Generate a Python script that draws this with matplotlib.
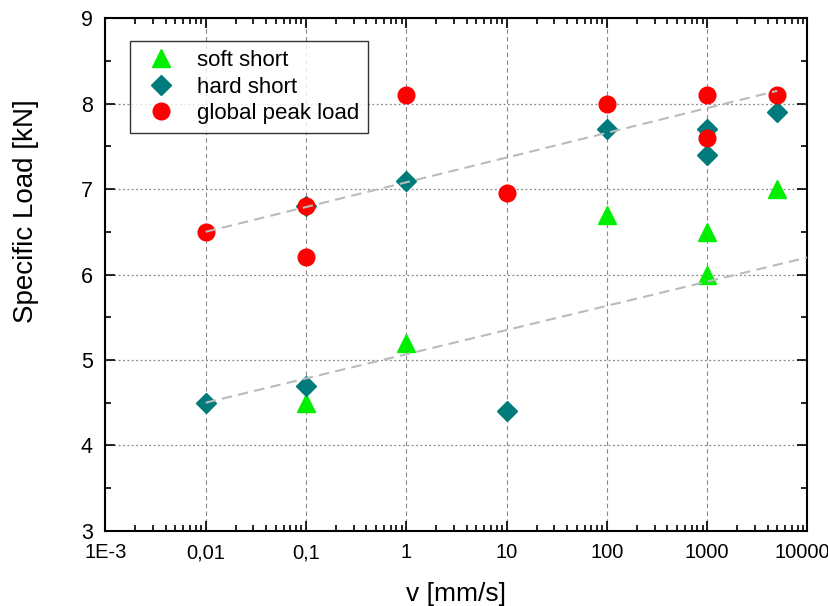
import numpy as np
import matplotlib
matplotlib.use("Agg")
from matplotlib import pyplot as plt
from matplotlib.ticker import FixedLocator, FixedFormatter, LogLocator, MultipleLocator
from matplotlib.transforms import ScaledTranslation

plt.rcParams['font.family'] = ['Liberation Sans', 'DejaVu Sans']

# measured loads per speed
soft_v = [0.1, 1, 100, 1000, 1000, 5000]
soft_F = [4.5, 5.2, 6.7, 6.5, 6.0, 7.0]
hard_v = [0.01, 0.1, 0.1, 1, 10, 100, 1000, 1000, 5000]
hard_F = [4.5, 4.7, 6.8, 7.1, 4.4, 7.7, 7.7, 7.4, 7.9]
peak_v = [0.01, 0.1, 0.1, 1, 10, 100, 1000, 1000, 5000]
peak_F = [6.5, 6.8, 6.2, 8.1, 6.95, 8.0, 8.1, 7.6, 8.1]

# trend lines (log-linear)
trend_hi_v = [0.01, 5000]
trend_hi_F = [6.5, 8.15]
trend_lo_v = [0.01, 10000]
trend_lo_F = [4.5, 6.2]

xticks = [1e-3, 1e-2, 1e-1, 1, 10, 100, 1000, 10000]
xlabels = ["1E-3", "0,01", "0,1", "1", "10", "100", "1000", "10000"]

fig = plt.figure(figsize=(8.29, 6.06), dpi=100)
ax = fig.add_axes([0.127, 0.124, 0.847, 0.846])

ax.plot(soft_v, soft_F, ls="none", marker="^", ms=13, color="#00ee00", label="soft short", zorder=3)
ax.plot(hard_v, hard_F, ls="none", marker="D", ms=10, color="#007b7b", label="hard short", zorder=3)
ax.plot(peak_v, peak_F, ls="none", marker="o", ms=12, color="#ff0000", label="global peak load", zorder=3)
ax.plot(trend_hi_v, trend_hi_F, ls=(0, (5, 3)), color="#bbbbbb", lw=1.5, zorder=4)
ax.plot(trend_lo_v, trend_lo_F, ls=(0, (5, 3)), color="#bbbbbb", lw=1.5, zorder=4)

ax.set_xscale("log")
ax.set_xlim(1e-3, 1e4)
ax.set_ylim(3, 9)
ax.xaxis.set_major_locator(FixedLocator(xticks))
ax.xaxis.set_major_formatter(FixedFormatter(xlabels))
ax.xaxis.set_minor_locator(LogLocator(base=10, subs=np.arange(2, 10)))
ax.xaxis.set_minor_formatter(FixedFormatter([]))
ax.yaxis.set_major_locator(MultipleLocator(1))
ax.yaxis.set_minor_locator(MultipleLocator(0.5))

ax.tick_params(which="both", direction="in", top=True, right=True, width=1.2)
ax.tick_params(which="major", length=7)
ax.tick_params(which="minor", length=4)
ax.tick_params(axis="x", labelsize=14.5, pad=9)
ax.tick_params(axis="y", labelsize=15.5, pad=9)
for s in ax.spines.values():
    s.set_linewidth(1.5)

# keep the last x label inside the figure
last = ax.get_xticklabels()[-1]
last.set_transform(last.get_transform() + ScaledTranslation(-4 / 72, 0, fig.dpi_scale_trans))

ax.xaxis.grid(True, which="major", ls=(0, (4, 3)), color="#888888", lw=0.8)
ax.yaxis.grid(True, which="major", ls=(0, (1.5, 2)), color="#888888", lw=0.9)

ax.set_xlabel("v [mm/s]", fontsize=19, labelpad=14)
ax.set_ylabel("Specific Load [kN]", fontsize=20)
ax.yaxis.set_label_coords(-0.095, 0.624)

leg = ax.legend(loc="upper left", bbox_to_anchor=(0.035, 0.955), fontsize=16, frameon=True,
                fancybox=False, edgecolor="black", handletextpad=0.6, borderpad=0.4,
                labelspacing=0.25, numpoints=1, borderaxespad=0)
leg.get_frame().set_linewidth(1.0)

fig.savefig("out.png", dpi=100)
